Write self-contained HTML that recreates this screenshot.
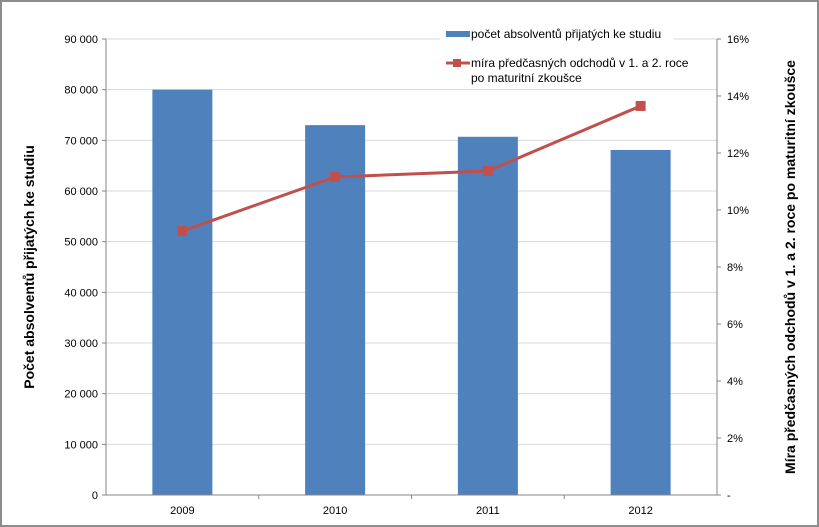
<!DOCTYPE html>
<html><head><meta charset="utf-8"><style>
html,body{margin:0;padding:0;background:#fff;}
svg{display:block;font-family:"Liberation Sans",sans-serif;}
</style></head><body>
<svg id="chart" width="819" height="527" xmlns="http://www.w3.org/2000/svg">
<rect x="1" y="1" width="817" height="525" fill="#fff" stroke="#8c8c8c" stroke-width="2"/>
<g id="grid"></g><g id="bars"></g><g id="line"></g><g id="axes"></g>
<text transform="translate(34,267) rotate(-90)" text-anchor="middle" font-size="14" font-weight="bold">Počet absolventů přijatých ke studiu</text>
<text transform="translate(795,267) rotate(-90)" text-anchor="middle" font-size="14" font-weight="bold">Míra předčasných odchodů v 1. a 2. roce po maturitní zkoušce</text>
<g>
<rect x="440" y="20" width="234" height="68" fill="#fff"/>
<rect x="446" y="31" width="24" height="6" fill="#4f81bd"/>
<text x="471" y="38" font-size="12">počet absolventů přijatých ke studiu</text>
<line x1="446" y1="63" x2="470" y2="63" stroke="#c0504d" stroke-width="3"/>
<rect x="453" y="59" width="8" height="8" fill="#c0504d"/>
<text x="471" y="67" font-size="12">míra předčasných odchodů v 1. a 2. roce</text>
<text x="471" y="82" font-size="12">po maturitní zkoušce</text>
</g>
</svg>
<script>
const categories=["2009","2010","2011","2012"];
const barValues=[80000,73000,70700,68100];
const rateValues=[9.26,11.16,11.37,13.65];
const leftTicks=[0,10000,20000,30000,40000,50000,60000,70000,80000,90000];
const rightTicks=[0,2,4,6,8,10,12,14,16];

const NS="http://www.w3.org/2000/svg";
const L=106,R=717,T=39,B=495;
const yL=v=>B-(v/90000)*(B-T);
const yR=v=>B-(v/16)*(B-T);
const band=(R-L)/categories.length;
const xC=i=>L+band*(i+0.5);
function mk(tag,attrs,parent,txt){const e=document.createElementNS(NS,tag);for(const k in attrs)e.setAttribute(k,attrs[k]);if(txt!==undefined)e.textContent=txt;document.getElementById(parent).appendChild(e);return e;}
const fmt=v=>v===0?"0":String(v).replace(/\B(?=(\d{3})+(?!\d))/g," ");

leftTicks.forEach(v=>{
  if(v>0){const g=mk("line",{x1:L,x2:R,y1:yL(v),y2:yL(v),stroke:"#d9d9d9","stroke-width":1},"grid");
  
  }
  const t=mk("text",{x:L-8,y:yL(v)+4,"text-anchor":"end","font-size":11},"axes",fmt(v));
  
  
  const tk=mk("line",{x1:L-4,x2:L,y1:yL(v),y2:yL(v),stroke:"#868686"},"axes");
  
  
});
rightTicks.forEach(v=>{
  const t=mk("text",{x:R+10,y:yR(v)+4,"font-size":11},"axes",v===0?"-":v+"%");
  
  
  const tk=mk("line",{x1:R,x2:R+4,y1:yR(v),y2:yR(v),stroke:"#868686"},"axes");
  
  
});
[[L,T,L,B],[R,T,R,B],[L,B,R,B]].forEach(a=>{
  const l=mk("line",{x1:a[0],y1:a[1],x2:a[2],y2:a[3],stroke:"#868686"},"axes");
  
  
});
categories.forEach((c,i)=>{
  const b=mk("rect",{x:xC(i)-30,y:yL(barValues[i]),width:60,height:B-yL(barValues[i]),fill:"#4f81bd"},"bars");
  
  
  const t=mk("text",{x:xC(i),y:B+19,"text-anchor":"middle","font-size":11},"axes",c);
  
  
  if(i>0){const tk=mk("line",{x1:L+band*i,x2:L+band*i,y1:B,y2:B+4,stroke:"#868686"},"axes");
  
  }
});
const pts=rateValues.map((v,i)=>xC(i)+","+yR(v)).join(" ");
const pl=mk("polyline",{points:pts,fill:"none",stroke:"#c0504d","stroke-width":3},"line");


rateValues.forEach((v,i)=>{
  const m=mk("rect",{x:xC(i)-5,y:yR(v)-5,width:10,height:10,fill:"#c0504d"},"line");
  
  
});
</script>
</body></html>
